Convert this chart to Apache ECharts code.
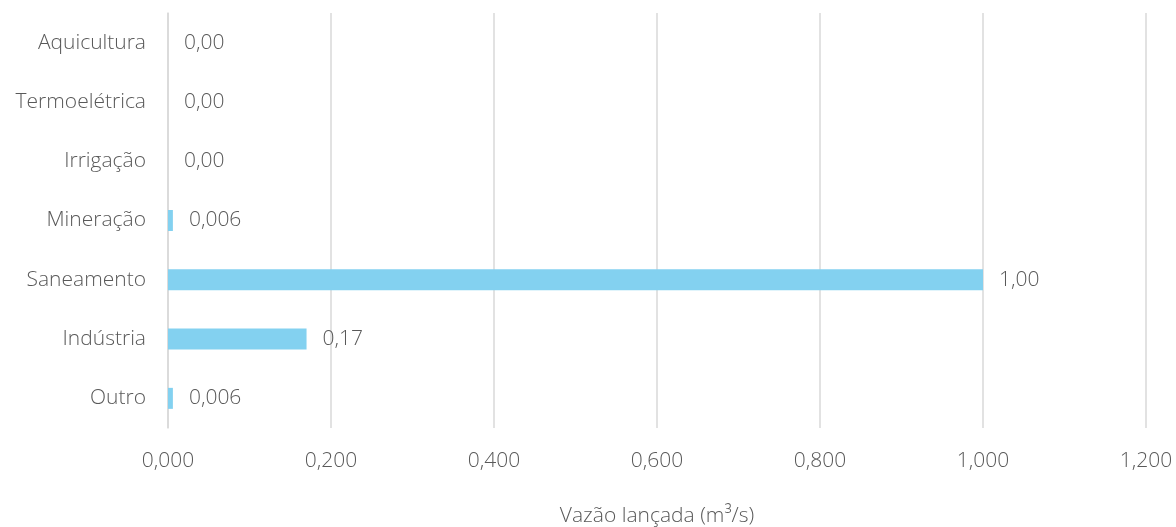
<!DOCTYPE html>
<html>
<head>
<meta charset="utf-8">
<script src="https://cdn.jsdelivr.net/npm/echarts@6/dist/echarts.min.js"></script>
<style>
  html, body { margin: 0; padding: 0; background: #ffffff; }
  #chart { width: 1176px; height: 527px; }
</style>
</head>
<body>
<div id="chart"></div>
<script>
// Categories listed bottom to top (category axis starts at the bottom)
const categories = ['Outro', 'Indústria', 'Saneamento', 'Mineração', 'Irrigação', 'Termoelétrica', 'Aquicultura'];
// Discharge flow per sector (m³/s)
const flowValues = [0.006, 0.17, 1.00, 0.006, 0, 0, 0];
// Printed value labels, as formatted in the source table
const flowLabels = ['0,006', '0,17', '1,00', '0,006', '0,00', '0,00', '0,00'];
// Value axis tick labels
const tickLabels = ['0,000', '0,200', '0,400', '0,600', '0,800', '1,000', '1,200'];

const FONT = '"Open Sans", Lato, sans-serif';
const WEIGHT = 300;
const SIZE = 21;
const TEXT = '#595959';
const GRID = '#d9d9d9';

const chart = echarts.init(document.getElementById('chart'), null, { renderer: 'canvas' });

chart.setOption({
  animation: false,
  backgroundColor: '#ffffff',
  grid: { left: 168, right: 30, top: 13, bottom: 99, containLabel: false, outerBoundsMode: 'none' },
  xAxis: {
    type: 'value',
    min: 0,
    max: 1.2,
    interval: 0.2,
    name: 'Vazão lançada (m³/s)',
    nameLocation: 'middle',
    nameGap: 78,
    nameTextStyle: { color: TEXT, fontFamily: FONT, fontWeight: WEIGHT, fontSize: SIZE },
    axisLine: { show: false },
    axisTick: { show: false },
    axisLabel: {
      color: TEXT, fontFamily: FONT, fontWeight: WEIGHT, fontSize: SIZE, margin: 23,
      formatter: (v) => tickLabels[Math.round(v / 0.2)]
    },
    splitLine: { show: true, lineStyle: { color: GRID, width: 1.5 } }
  },
  yAxis: {
    type: 'category',
    data: categories,
    axisLine: { show: true, lineStyle: { color: GRID, width: 1.5 } },
    axisTick: { show: false },
    axisLabel: { color: TEXT, fontFamily: FONT, fontWeight: WEIGHT, fontSize: SIZE, margin: 22, padding: [3, 0, 0, 0] },
    splitLine: { show: false }
  },
  series: [{
    type: 'bar',
    data: flowValues,
    barWidth: 21,
    itemStyle: { color: '#83d1f0' },
    label: {
      show: true,
      position: 'right',
      distance: 16,
      color: TEXT,
      fontFamily: FONT,
      fontWeight: WEIGHT,
      fontSize: SIZE,
      padding: [3, 0, 0, 0],
      formatter: (p) => flowLabels[p.dataIndex]
    }
  }]
});
</script>
</body>
</html>
